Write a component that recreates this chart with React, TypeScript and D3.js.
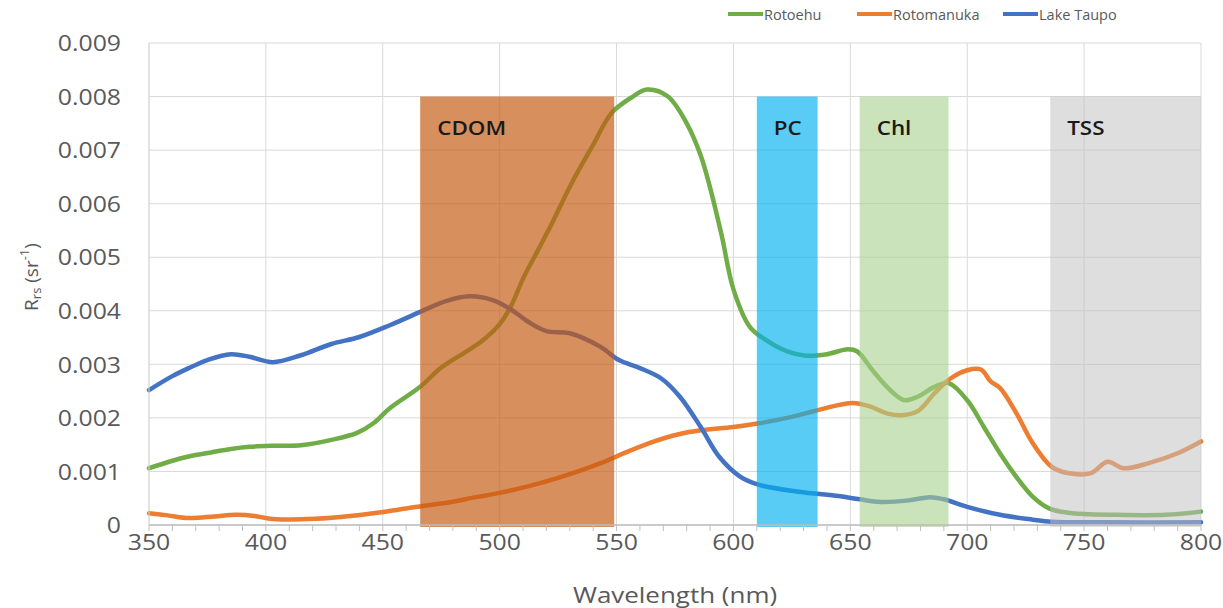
import React from 'react';
import * as d3 from 'd3';

// Rrs spectra
const rotoehuNm = [350, 360, 367, 377, 385, 393, 403, 415, 428, 439, 446, 453, 466, 475, 485, 492, 500, 505, 510, 516, 522, 531, 540, 548, 557, 563, 572, 580, 586, 590, 595, 600, 607, 614, 623, 631, 640, 649, 653, 660, 667, 673, 679, 686, 692, 700, 707, 714, 721, 728, 735, 743, 764, 785, 800];
const rotoehuRrs = [0.00106, 0.0012, 0.00128, 0.00136, 0.00142, 0.00146, 0.00148, 0.00149, 0.00159, 0.00172, 0.0019, 0.00218, 0.00258, 0.00294, 0.00322, 0.00342, 0.00375, 0.0041, 0.0046, 0.0051, 0.0056, 0.0064, 0.0071, 0.0077, 0.008, 0.00813, 0.008, 0.0075, 0.0069, 0.0063, 0.0054, 0.0044, 0.0037, 0.00345, 0.00324, 0.00316, 0.00319, 0.00328, 0.00324, 0.00286, 0.00252, 0.00233, 0.0024, 0.00258, 0.00265, 0.00233, 0.00184, 0.00134, 0.0009, 0.00053, 0.00031, 0.00023, 0.00019, 0.00019, 0.00025];

const rotomanukaNm = [350, 358, 367, 378, 387, 395, 403, 418, 432, 446, 460, 475, 490, 500, 512, 525, 543, 551, 564, 577, 586, 600, 611, 623, 634, 643, 651, 658, 666, 672, 679, 686, 693, 700, 706, 710, 714, 721, 728, 736, 743, 753, 760, 767, 778, 790, 800];
const rotomanukaRrs = [0.00022, 0.00018, 0.00013, 0.00016, 0.00019, 0.00017, 0.00011, 0.00011, 0.00015, 0.00022, 0.00031, 0.0004, 0.00052, 0.0006, 0.00072, 0.00088, 0.00115, 0.0013, 0.00153, 0.0017, 0.00177, 0.00183, 0.0019, 0.002, 0.00212, 0.00222, 0.00228, 0.00222, 0.00208, 0.00205, 0.00213, 0.00246, 0.00274, 0.00289, 0.0029, 0.00268, 0.00256, 0.00209, 0.00153, 0.00109, 0.00097, 0.00097, 0.00118, 0.00106, 0.00116, 0.00134, 0.00156];

const taupoNm = [350, 360, 367, 375, 385, 393, 403, 415, 428, 440, 453, 466, 477, 487, 497, 505, 512, 520, 530, 543, 551, 560, 569, 577, 586, 594, 603, 611, 628, 645, 654, 663, 675, 684, 690, 700, 714, 728, 736, 760, 800];
const taupoRrs = [0.00252, 0.00278, 0.00293, 0.00308, 0.00319, 0.00314, 0.00304, 0.00317, 0.00338, 0.00351, 0.00373, 0.00398, 0.00418, 0.00427, 0.0042, 0.00402, 0.0038, 0.00362, 0.00358, 0.00333, 0.00308, 0.00293, 0.00274, 0.0024, 0.00183, 0.00127, 0.0009, 0.00075, 0.00062, 0.00054, 0.00048, 0.00043, 0.00046, 0.00052, 0.00048, 0.00034, 0.00019, 0.0001, 0.00006, 0.00005, 0.00005];

const seriesNames = ['Rotoehu', 'Rotomanuka', 'Lake Taupo'];
const seriesColors = ['#70ad47', '#ed7d31', '#4472c4'];

// absorption / scattering bands (nm)
const bandNames = ['CDOM', 'PC', 'Chl', 'TSS'];
const bandStart = [466, 610, 654, 735.5];
const bandEnd = [549, 636, 692, 800];
const bandColors = ['#c55a11', '#00b0f0', '#a9d18e', '#bfbfbf'];
const bandOpacity = [0.68, 0.65, 0.6, 0.52];
const bandTop = 0.008;

const xTicks = d3.range(350, 801, 50);
const yTicks = d3.range(0, 0.0091, 0.001);

const W = 1223;
const H = 608;
const M = { left: 149, right: 1201, top: 43, bottom: 525 };
const FONT = '"Open Sans", sans-serif';
const GREY = '#595959';

// the source figure is a bit wider than tall, so text is stretched sideways
const SX = 1.18;

type STProps = { x: number; y: number; anchor?: string; size: number; children: React.ReactNode; weight?: number; fill?: string };
const StretchText = ({ x, y, anchor = 'start', size, children, weight = 400, fill = GREY }: STProps) => (
  <text transform={`translate(${x},${y}) scale(${SX},1)`} textAnchor={anchor} dominantBaseline="central"
    fontSize={size} fontWeight={weight} fill={fill}>
    {children}
  </text>
);

const App = () => {
  const x = d3.scaleLinear().domain([350, 800]).range([M.left, M.right]);
  const y = d3.scaleLinear().domain([0, 0.009]).range([M.bottom, M.top]);

  const line = d3.line<[number, number]>()
    .x(d => x(d[0]))
    .y(d => y(d[1]))
    .curve(d3.curveCatmullRom.alpha(0.5));

  const series = [
    d3.zip(rotoehuNm, rotoehuRrs),
    d3.zip(rotomanukaNm, rotomanukaRrs),
    d3.zip(taupoNm, taupoRrs),
  ] as [number, number][][];

  const minorTicks = d3.range(350, 801, 10);

  // legend layout
  const legendX = [728, 857, 1003];
  const legendY = 14;

  return (
    <svg width={W} height={H} style={{ position: 'absolute', left: 0, top: 0, background: '#fff' }} fontFamily={FONT}>
      {/* grid */}
      {yTicks.map((t, i) => (
        <line key={'gy' + i} x1={M.left} x2={M.right} y1={y(t)} y2={y(t)} stroke="#d9d9d9" strokeWidth={1} />
      ))}
      {xTicks.map(t => (
        <line key={'gx' + t} x1={x(t)} x2={x(t)} y1={M.top} y2={M.bottom} stroke="#d9d9d9" strokeWidth={1} />
      ))}

      {/* spectra */}
      {series.map((s, i) => (
        <path key={seriesNames[i]} d={line(s) || ''} fill="none" stroke={seriesColors[i]} strokeWidth={4.5} strokeLinecap="round" strokeLinejoin="round" />
      ))}

      {/* bands on top, semi transparent */}
      {bandNames.map((b, i) => (
        <g key={b}>
          <rect x={x(bandStart[i])} y={y(bandTop)} width={x(bandEnd[i]) - x(bandStart[i])} height={M.bottom + 2 - y(bandTop)}
            fill={bandColors[i]} fillOpacity={bandOpacity[i]} />
          <StretchText x={x(bandStart[i]) + 17} y={y(bandTop) + 31} size={19} weight={600} fill="#1a1a1a">{b}</StretchText>
        </g>
      ))}

      {/* axes */}
      <line x1={M.left} x2={M.right} y1={M.bottom} y2={M.bottom} stroke="#bfbfbf" strokeWidth={1.5} />
      <line x1={M.left} x2={M.left} y1={M.top} y2={M.bottom} stroke="#d9d9d9" strokeWidth={1} />
      {minorTicks.map(t => (
        <line key={'mt' + t} x1={x(t)} x2={x(t)} y1={M.bottom} y2={M.bottom + 6} stroke="#bfbfbf" strokeWidth={1} />
      ))}

      {yTicks.map((t, i) => (
        <StretchText key={'yl' + i} x={121} y={y(t)} anchor="end" size={21}>
          {i === 0 ? '0' : t.toFixed(3)}
        </StretchText>
      ))}
      {xTicks.map(t => (
        <StretchText key={'xl' + t} x={x(t)} y={542} anchor="middle" size={21}>{t}</StretchText>
      ))}

      <StretchText x={675} y={594} anchor="middle" size={22}>Wavelength (nm)</StretchText>
      <text transform={`translate(31, ${277}) rotate(-90)`} textAnchor="middle" dominantBaseline="central" fontSize={19} fill={GREY}>
        R<tspan fontSize={13} dy={5}>rs</tspan><tspan dy={-5}> (sr</tspan><tspan fontSize={13} dy={-7}>-1</tspan><tspan dy={7}>)</tspan>
      </text>

      {/* legend */}
      {seriesNames.map((n, i) => (
        <g key={'lg' + n}>
          <line x1={legendX[i]} x2={legendX[i] + 35} y1={legendY} y2={legendY} stroke={seriesColors[i]} strokeWidth={4} />
          <text x={legendX[i] + 36} y={legendY} dominantBaseline="central" fontSize={14.5} fill={GREY}>{n}</text>
        </g>
      ))}
    </svg>
  );
};

export default App;
